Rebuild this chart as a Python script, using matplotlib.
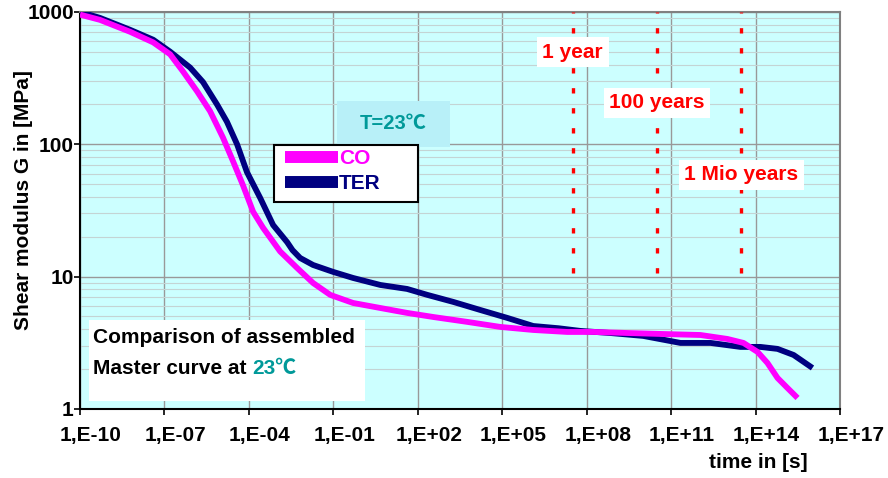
import numpy as np
import matplotlib
matplotlib.use("Agg")
import matplotlib.pyplot as plt
import matplotlib.transforms as mtransforms
from matplotlib.lines import Line2D
from matplotlib.patches import Rectangle
from matplotlib.ticker import FixedLocator, FuncFormatter, LogLocator, NullLocator

plt.rcParams['font.family'] = ['Liberation Sans', 'Noto Sans CJK SC', 'DejaVu Sans']
plt.rcParams['font.weight'] = 'bold'

# master curves: log10(time [s]) and log10(G [MPa])
co_logt = [-10.0, -9.29, -8.22, -7.40, -6.80, -6.34, -5.84, -5.38, -4.92, -4.56, -4.21, -3.85,
           -3.50, -2.89, -2.29, -1.72, -1.11, -0.30, 0.67, 1.62, 2.55, 3.76, 4.93, 6.10,
           7.31, 8.24, 9.45, 10.62, 12.04, 13.0, 13.57, 14.07, 14.42, 14.78, 15.13, 15.49]
co_logg = [2.98, 2.94, 2.85, 2.77, 2.68, 2.55, 2.40, 2.25, 2.05, 1.87, 1.69, 1.49,
           1.37, 1.19, 1.066, 0.952, 0.862, 0.801, 0.763, 0.726, 0.695, 0.658, 0.620, 0.597,
           0.582, 0.582, 0.574, 0.567, 0.559, 0.529, 0.499, 0.431, 0.348, 0.234, 0.159, 0.083]

ter_logt = [-10.0, -9.29, -8.22, -7.40, -6.80, -6.09, -5.63, -5.13, -4.78, -4.42, -4.07, -3.60,
            -3.14, -2.64, -2.45, -2.18, -1.72, -1.01, -0.30, 0.67, 1.62, 2.34, 3.26, 4.22,
            5.18, 6.10, 7.0, 7.77, 8.84, 10.01, 11.33, 12.40, 13.46, 14.17, 14.78, 15.35, 16.02]
ter_logg = [3.00, 2.955, 2.865, 2.79, 2.70, 2.58, 2.47, 2.30, 2.17, 2.00, 1.79, 1.595,
            1.39, 1.26, 1.20, 1.141, 1.088, 1.036, 0.990, 0.937, 0.907, 0.862, 0.809, 0.748,
            0.688, 0.627, 0.610, 0.590, 0.574, 0.552, 0.499, 0.499, 0.469, 0.469, 0.454, 0.408, 0.310]

# reference times (s) and their labels
marker_times = [3.15e7, 3.15e10, 3.15e13]
marker_labels = ['1 year', '100 years', '1 Mio years']
marker_label_g = [495, 206, 58.7]
marker_top, marker_bottom = 1000, 10.7

xtick_exps = [-10, -7, -4, -1, 2, 5, 8, 11, 14, 17]
ytick_vals = [1, 10, 100, 1000]

magenta = '#ff00ff'
navy = '#000080'
teal = '#009999'
fs = 15

fig = plt.figure(figsize=(8.88, 4.78), dpi=100)
ax = fig.add_axes([0.0901, 0.1444, 0.8559, 0.8306])
ax.set_facecolor('#ccffff')

ax.set_xscale('log')
ax.set_yscale('log')
ax.set_xlim(1e-10, 1e17)
ax.set_ylim(1, 1000)

ax.xaxis.set_major_locator(FixedLocator([10.0 ** e for e in xtick_exps]))
ax.xaxis.set_minor_locator(NullLocator())
ax.xaxis.set_major_formatter(FuncFormatter(lambda v, p: '1,E%+03d' % round(np.log10(v))))
ax.yaxis.set_major_locator(FixedLocator(ytick_vals))
ax.yaxis.set_major_formatter(FuncFormatter(lambda v, p: '%d' % v))
ax.yaxis.set_minor_locator(LogLocator(base=10, subs=np.arange(2, 10)))

ax.grid(True, which='major', color='#999999', lw=1.0)
ax.grid(True, which='minor', axis='y', color='#c4d4d4', lw=0.8)
ax.set_axisbelow(True)
ax.tick_params(axis='both', which='major', labelsize=fs, length=4, width=1.2, direction='out')
ax.tick_params(axis='y', which='minor', length=0)
ax.tick_params(axis='x', pad=8)
ax.tick_params(axis='y', pad=0.5)

# Excel draws the time labels a bit right of their ticks
shift = mtransforms.ScaledTranslation(0.11, 0, fig.dpi_scale_trans)
for lab in ax.get_xticklabels():
    lab.set_transform(lab.get_transform() + shift)
for lab in ax.get_xticklabels() + ax.get_yticklabels():
    lab.set_fontweight('bold')

for side in ['top', 'right']:
    ax.spines[side].set_color('#808080')
    ax.spines[side].set_linewidth(1.5)
for side in ['left', 'bottom']:
    ax.spines[side].set_color('black')
    ax.spines[side].set_linewidth(1.5)

ax.plot(10.0 ** np.array(ter_logt), 10.0 ** np.array(ter_logg), color=navy, lw=4.2,
        solid_capstyle='butt', solid_joinstyle='round', zorder=4)
ax.plot(10.0 ** np.array(co_logt), 10.0 ** np.array(co_logg), color=magenta, lw=4.2,
        solid_capstyle='butt', solid_joinstyle='round', zorder=5)

# dotted reference lines and labels
for t, lab, gy in zip(marker_times, marker_labels, marker_label_g):
    ax.plot([t, t], [marker_bottom, marker_top], color='#ff0000', lw=2.4,
            dashes=(1.6, 4.4), zorder=3)
    ax.text(t, gy, lab, color='#ff0000', fontsize=fs, fontweight='bold',
            ha='center', va='center', zorder=6,
            bbox=dict(facecolor='white', edgecolor='none', pad=4))

# temperature box
ax.add_patch(Rectangle((0.338, 0.66), 0.149, 0.116, transform=ax.transAxes,
                       facecolor='#b8f0f8', edgecolor='none', zorder=6))
ax.text(0.4125, 0.718, 'T=23\u2103', transform=ax.transAxes, color=teal, fontsize=14.5,
        fontweight='bold', ha='center', va='center', zorder=7)

# legend: Excel-style wide frame drawn as a rectangle
ax.add_patch(Rectangle((0.2553, 0.5214), 0.1895, 0.1436, transform=ax.transAxes,
                       facecolor='white', edgecolor='black', lw=1.5, zorder=7))
handles = [Line2D([], [], color=magenta, lw=8.6, solid_capstyle='butt'),
           Line2D([], [], color=navy, lw=8.6, solid_capstyle='butt')]
leg = ax.legend(handles, ['CO', 'TER'], loc='upper left', bbox_to_anchor=(0.2697, 0.655),
                frameon=False, prop=dict(size=fs, weight='bold'), handlelength=2.55,
                handletextpad=0.05, borderpad=0, labelspacing=0.3, borderaxespad=0)
leg.set_zorder(8)
for txt, c in zip(leg.get_texts(), [magenta, navy]):
    txt.set_color(c)

# comparison note
ax.add_patch(Rectangle((0.012, 0.02), 0.363, 0.204, transform=ax.transAxes,
                       facecolor='white', edgecolor='none', zorder=6))
ax.text(0.017, 0.179, 'Comparison of assembled', transform=ax.transAxes, fontsize=fs,
        fontweight='bold', ha='left', va='center', zorder=7)
t2 = ax.text(0.017, 0.103, 'Master curve at ', transform=ax.transAxes, fontsize=fs,
             fontweight='bold', ha='left', va='center', zorder=7)
ax.annotate('23\u2103', xy=(1, 0.5), xycoords=t2, va='center', ha='left', fontsize=fs,
            fontweight='bold', color=teal, zorder=7)

ax.set_ylabel('Shear modulus G in [MPa]', fontsize=fs, fontweight='bold')
ax.yaxis.set_label_coords(-0.0618, 0.526)
fig.text(808 / 888, (478 - 463) / 478, 'time in [s]', fontsize=fs, fontweight='bold',
         ha='right', va='center')

fig.savefig('out.png', dpi=100)
